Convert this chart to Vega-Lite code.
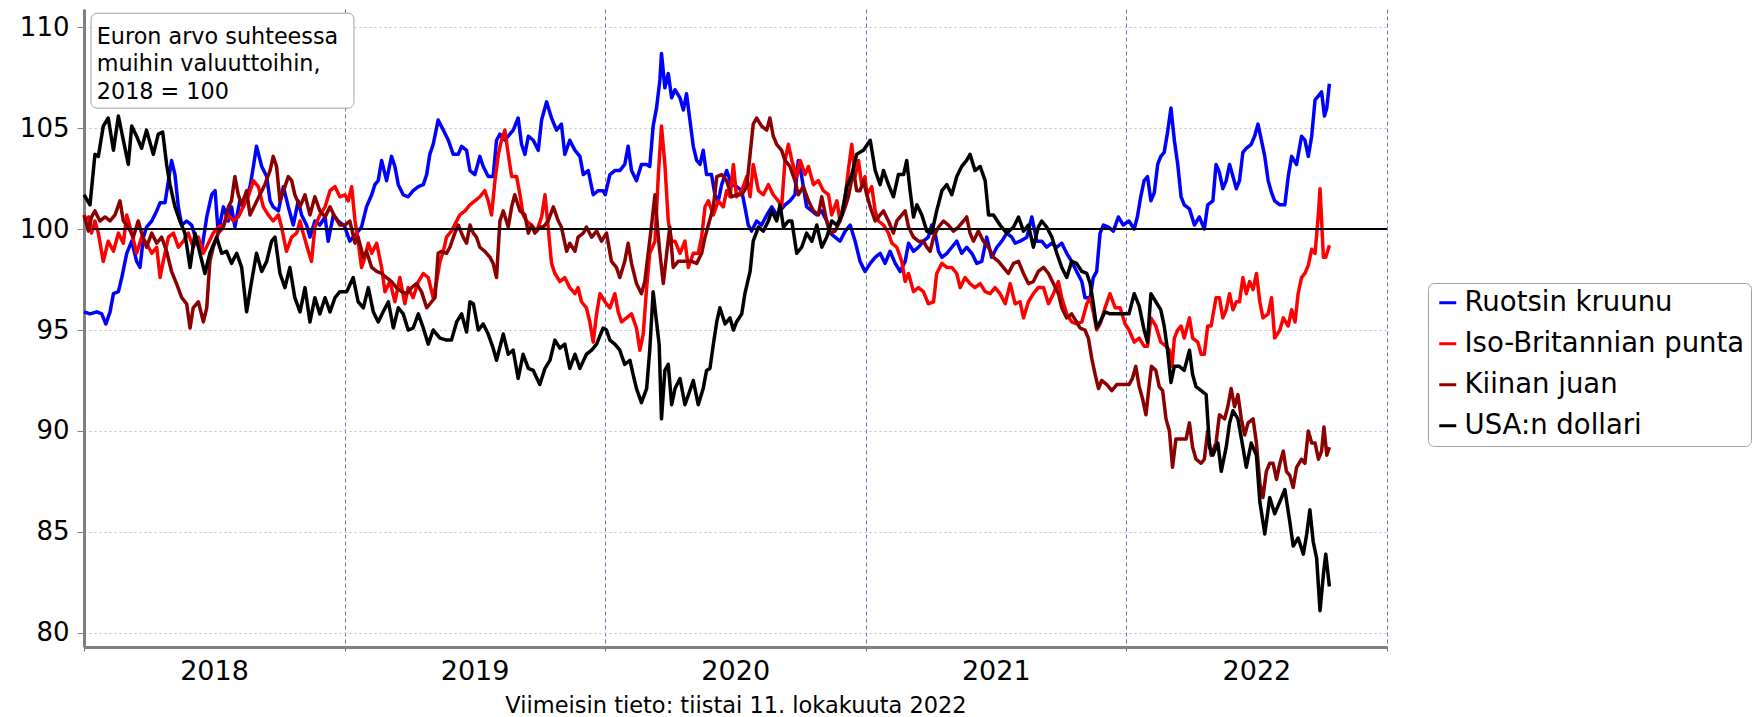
{
"$schema": "https://vega.github.io/schema/vega-lite/v6.json",
"width": 1303, "height": 638,
"autosize": "none",
"padding": {"left": 84, "top": 9, "right": 369, "bottom": 70},
"background": "white",
"config": {"font": "DejaVu Sans", "view": {"stroke": null}},
"data": {"values": [
{"s":"SEK","t":2018.000,"v":95.9},{"s":"SEK","t":2018.023,"v":95.8},{"s":"SEK","t":2018.049,"v":95.9},{"s":"SEK","t":2018.068,"v":95.8},{"s":"SEK","t":2018.084,"v":95.3},{"s":"SEK","t":2018.100,"v":95.9},{"s":"SEK","t":2018.113,"v":96.8},{"s":"SEK","t":2018.132,"v":96.9},{"s":"SEK","t":2018.145,"v":97.6},{"s":"SEK","t":2018.164,"v":98.8},{"s":"SEK","t":2018.183,"v":99.4},{"s":"SEK","t":2018.202,"v":98.4},{"s":"SEK","t":2018.215,"v":98.1},{"s":"SEK","t":2018.228,"v":99.6},{"s":"SEK","t":2018.240,"v":100.1},{"s":"SEK","t":2018.260,"v":100.4},{"s":"SEK","t":2018.279,"v":100.9},{"s":"SEK","t":2018.292,"v":101.3},{"s":"SEK","t":2018.311,"v":101.3},{"s":"SEK","t":2018.324,"v":102.4},{"s":"SEK","t":2018.336,"v":103.4},{"s":"SEK","t":2018.349,"v":102.7},{"s":"SEK","t":2018.362,"v":101.1},{"s":"SEK","t":2018.375,"v":100.2},{"s":"SEK","t":2018.394,"v":100.4},{"s":"SEK","t":2018.413,"v":100.2},{"s":"SEK","t":2018.432,"v":99.4},{"s":"SEK","t":2018.451,"v":98.9},{"s":"SEK","t":2018.471,"v":100.6},{"s":"SEK","t":2018.490,"v":101.7},{"s":"SEK","t":2018.503,"v":101.9},{"s":"SEK","t":2018.515,"v":99.8},{"s":"SEK","t":2018.535,"v":101.1},{"s":"SEK","t":2018.554,"v":100.4},{"s":"SEK","t":2018.566,"v":101.1},{"s":"SEK","t":2018.579,"v":100.1},{"s":"SEK","t":2018.598,"v":101.4},{"s":"SEK","t":2018.618,"v":101.4},{"s":"SEK","t":2018.637,"v":102.1},{"s":"SEK","t":2018.650,"v":103.1},{"s":"SEK","t":2018.662,"v":104.1},{"s":"SEK","t":2018.682,"v":103.1},{"s":"SEK","t":2018.701,"v":102.6},{"s":"SEK","t":2018.714,"v":101.4},{"s":"SEK","t":2018.726,"v":101.1},{"s":"SEK","t":2018.746,"v":100.9},{"s":"SEK","t":2018.765,"v":102.1},{"s":"SEK","t":2018.784,"v":101.1},{"s":"SEK","t":2018.803,"v":100.2},{"s":"SEK","t":2018.822,"v":101.4},{"s":"SEK","t":2018.835,"v":100.7},{"s":"SEK","t":2018.854,"v":100.2},{"s":"SEK","t":2018.867,"v":99.6},{"s":"SEK","t":2018.886,"v":100.4},{"s":"SEK","t":2018.905,"v":100.2},{"s":"SEK","t":2018.925,"v":100.6},{"s":"SEK","t":2018.937,"v":99.4},{"s":"SEK","t":2018.957,"v":100.7},{"s":"SEK","t":2018.976,"v":100.4},{"s":"SEK","t":2018.995,"v":100.2},
{"s":"SEK","t":2019.001,"v":100.1},{"s":"SEK","t":2019.020,"v":99.4},{"s":"SEK","t":2019.046,"v":99.8},{"s":"SEK","t":2019.065,"v":100.1},{"s":"SEK","t":2019.084,"v":101.1},{"s":"SEK","t":2019.104,"v":101.7},{"s":"SEK","t":2019.116,"v":102.2},{"s":"SEK","t":2019.129,"v":102.4},{"s":"SEK","t":2019.142,"v":103.4},{"s":"SEK","t":2019.161,"v":102.4},{"s":"SEK","t":2019.180,"v":103.6},{"s":"SEK","t":2019.193,"v":103.1},{"s":"SEK","t":2019.206,"v":102.2},{"s":"SEK","t":2019.225,"v":101.7},{"s":"SEK","t":2019.244,"v":101.6},{"s":"SEK","t":2019.263,"v":101.9},{"s":"SEK","t":2019.283,"v":102.1},{"s":"SEK","t":2019.302,"v":102.2},{"s":"SEK","t":2019.315,"v":102.7},{"s":"SEK","t":2019.327,"v":103.7},{"s":"SEK","t":2019.340,"v":104.2},{"s":"SEK","t":2019.359,"v":105.4},{"s":"SEK","t":2019.379,"v":104.9},{"s":"SEK","t":2019.398,"v":104.4},{"s":"SEK","t":2019.417,"v":103.7},{"s":"SEK","t":2019.436,"v":103.7},{"s":"SEK","t":2019.449,"v":104.1},{"s":"SEK","t":2019.468,"v":103.9},{"s":"SEK","t":2019.481,"v":102.9},{"s":"SEK","t":2019.500,"v":102.7},{"s":"SEK","t":2019.519,"v":103.6},{"s":"SEK","t":2019.532,"v":103.1},{"s":"SEK","t":2019.551,"v":102.6},{"s":"SEK","t":2019.570,"v":102.6},{"s":"SEK","t":2019.583,"v":104.4},{"s":"SEK","t":2019.596,"v":104.7},{"s":"SEK","t":2019.615,"v":104.4},{"s":"SEK","t":2019.634,"v":104.7},{"s":"SEK","t":2019.647,"v":104.9},{"s":"SEK","t":2019.666,"v":105.5},{"s":"SEK","t":2019.679,"v":104.2},{"s":"SEK","t":2019.692,"v":103.7},{"s":"SEK","t":2019.705,"v":104.6},{"s":"SEK","t":2019.724,"v":104.4},{"s":"SEK","t":2019.743,"v":103.9},{"s":"SEK","t":2019.756,"v":105.4},{"s":"SEK","t":2019.775,"v":106.3},{"s":"SEK","t":2019.794,"v":105.5},{"s":"SEK","t":2019.813,"v":104.9},{"s":"SEK","t":2019.832,"v":105.2},{"s":"SEK","t":2019.845,"v":103.7},{"s":"SEK","t":2019.864,"v":104.4},{"s":"SEK","t":2019.884,"v":103.9},{"s":"SEK","t":2019.903,"v":103.6},{"s":"SEK","t":2019.916,"v":102.7},{"s":"SEK","t":2019.935,"v":102.9},{"s":"SEK","t":2019.954,"v":101.7},{"s":"SEK","t":2019.973,"v":101.9},{"s":"SEK","t":2019.992,"v":101.9},
{"s":"SEK","t":2020.000,"v":101.7},{"s":"SEK","t":2020.018,"v":102.7},{"s":"SEK","t":2020.037,"v":102.9},{"s":"SEK","t":2020.056,"v":102.9},{"s":"SEK","t":2020.075,"v":103.2},{"s":"SEK","t":2020.088,"v":104.1},{"s":"SEK","t":2020.101,"v":102.9},{"s":"SEK","t":2020.120,"v":102.4},{"s":"SEK","t":2020.139,"v":103.2},{"s":"SEK","t":2020.159,"v":103.2},{"s":"SEK","t":2020.171,"v":103.1},{"s":"SEK","t":2020.184,"v":105.1},{"s":"SEK","t":2020.197,"v":106.0},{"s":"SEK","t":2020.210,"v":107.4},{"s":"SEK","t":2020.216,"v":108.7},{"s":"SEK","t":2020.229,"v":107.0},{"s":"SEK","t":2020.242,"v":107.7},{"s":"SEK","t":2020.255,"v":106.5},{"s":"SEK","t":2020.268,"v":106.9},{"s":"SEK","t":2020.287,"v":106.5},{"s":"SEK","t":2020.300,"v":105.9},{"s":"SEK","t":2020.312,"v":106.7},{"s":"SEK","t":2020.325,"v":105.4},{"s":"SEK","t":2020.338,"v":104.1},{"s":"SEK","t":2020.351,"v":103.4},{"s":"SEK","t":2020.364,"v":103.2},{"s":"SEK","t":2020.376,"v":103.9},{"s":"SEK","t":2020.389,"v":102.7},{"s":"SEK","t":2020.408,"v":102.7},{"s":"SEK","t":2020.421,"v":101.7},{"s":"SEK","t":2020.434,"v":101.4},{"s":"SEK","t":2020.447,"v":102.2},{"s":"SEK","t":2020.466,"v":102.9},{"s":"SEK","t":2020.485,"v":102.2},{"s":"SEK","t":2020.504,"v":102.1},{"s":"SEK","t":2020.524,"v":101.9},{"s":"SEK","t":2020.536,"v":101.1},{"s":"SEK","t":2020.549,"v":100.2},{"s":"SEK","t":2020.562,"v":99.9},{"s":"SEK","t":2020.581,"v":100.4},{"s":"SEK","t":2020.600,"v":100.2},{"s":"SEK","t":2020.620,"v":100.7},{"s":"SEK","t":2020.639,"v":101.1},{"s":"SEK","t":2020.658,"v":100.7},{"s":"SEK","t":2020.671,"v":100.9},{"s":"SEK","t":2020.690,"v":101.2},{"s":"SEK","t":2020.709,"v":101.4},{"s":"SEK","t":2020.728,"v":101.7},{"s":"SEK","t":2020.741,"v":103.4},{"s":"SEK","t":2020.754,"v":102.6},{"s":"SEK","t":2020.773,"v":101.1},{"s":"SEK","t":2020.793,"v":100.9},{"s":"SEK","t":2020.812,"v":100.7},{"s":"SEK","t":2020.831,"v":100.9},{"s":"SEK","t":2020.850,"v":100.4},{"s":"SEK","t":2020.863,"v":99.8},{"s":"SEK","t":2020.882,"v":99.6},{"s":"SEK","t":2020.901,"v":99.4},{"s":"SEK","t":2020.921,"v":99.9},{"s":"SEK","t":2020.940,"v":100.2},{"s":"SEK","t":2020.959,"v":99.4},{"s":"SEK","t":2020.978,"v":98.4},{"s":"SEK","t":2020.997,"v":97.9},
{"s":"SEK","t":2021.017,"v":98.3},{"s":"SEK","t":2021.036,"v":98.6},{"s":"SEK","t":2021.055,"v":98.8},{"s":"SEK","t":2021.074,"v":98.3},{"s":"SEK","t":2021.093,"v":98.9},{"s":"SEK","t":2021.113,"v":98.3},{"s":"SEK","t":2021.132,"v":97.9},{"s":"SEK","t":2021.151,"v":98.4},{"s":"SEK","t":2021.164,"v":99.3},{"s":"SEK","t":2021.183,"v":98.9},{"s":"SEK","t":2021.202,"v":99.1},{"s":"SEK","t":2021.221,"v":99.4},{"s":"SEK","t":2021.240,"v":99.6},{"s":"SEK","t":2021.253,"v":100.2},{"s":"SEK","t":2021.266,"v":99.8},{"s":"SEK","t":2021.279,"v":98.9},{"s":"SEK","t":2021.292,"v":98.6},{"s":"SEK","t":2021.311,"v":98.8},{"s":"SEK","t":2021.330,"v":99.1},{"s":"SEK","t":2021.349,"v":99.4},{"s":"SEK","t":2021.368,"v":98.8},{"s":"SEK","t":2021.387,"v":99.1},{"s":"SEK","t":2021.407,"v":98.8},{"s":"SEK","t":2021.426,"v":98.3},{"s":"SEK","t":2021.445,"v":98.4},{"s":"SEK","t":2021.464,"v":99.6},{"s":"SEK","t":2021.483,"v":98.6},{"s":"SEK","t":2021.503,"v":99.1},{"s":"SEK","t":2021.522,"v":99.4},{"s":"SEK","t":2021.541,"v":99.8},{"s":"SEK","t":2021.560,"v":99.6},{"s":"SEK","t":2021.573,"v":99.3},{"s":"SEK","t":2021.592,"v":99.4},{"s":"SEK","t":2021.618,"v":99.6},{"s":"SEK","t":2021.637,"v":100.6},{"s":"SEK","t":2021.656,"v":99.4},{"s":"SEK","t":2021.675,"v":99.4},{"s":"SEK","t":2021.694,"v":99.1},{"s":"SEK","t":2021.714,"v":99.3},{"s":"SEK","t":2021.733,"v":99.1},{"s":"SEK","t":2021.752,"v":99.3},{"s":"SEK","t":2021.771,"v":98.8},{"s":"SEK","t":2021.790,"v":98.4},{"s":"SEK","t":2021.809,"v":97.9},{"s":"SEK","t":2021.829,"v":97.4},{"s":"SEK","t":2021.841,"v":96.6},{"s":"SEK","t":2021.861,"v":96.6},{"s":"SEK","t":2021.873,"v":97.6},{"s":"SEK","t":2021.886,"v":97.9},{"s":"SEK","t":2021.899,"v":99.8},{"s":"SEK","t":2021.912,"v":100.2},{"s":"SEK","t":2021.931,"v":100.1},{"s":"SEK","t":2021.950,"v":99.9},{"s":"SEK","t":2021.969,"v":100.6},{"s":"SEK","t":2021.988,"v":100.2},
{"s":"SEK","t":2022.010,"v":100.4},{"s":"SEK","t":2022.030,"v":100.0},{"s":"SEK","t":2022.042,"v":100.6},{"s":"SEK","t":2022.055,"v":101.6},{"s":"SEK","t":2022.068,"v":102.4},{"s":"SEK","t":2022.081,"v":102.6},{"s":"SEK","t":2022.094,"v":101.4},{"s":"SEK","t":2022.107,"v":101.8},{"s":"SEK","t":2022.120,"v":103.2},{"s":"SEK","t":2022.132,"v":103.6},{"s":"SEK","t":2022.145,"v":103.8},{"s":"SEK","t":2022.158,"v":104.8},{"s":"SEK","t":2022.171,"v":106.0},{"s":"SEK","t":2022.184,"v":104.4},{"s":"SEK","t":2022.197,"v":103.2},{"s":"SEK","t":2022.210,"v":101.6},{"s":"SEK","t":2022.222,"v":101.2},{"s":"SEK","t":2022.242,"v":101.0},{"s":"SEK","t":2022.261,"v":100.2},{"s":"SEK","t":2022.280,"v":100.6},{"s":"SEK","t":2022.299,"v":100.0},{"s":"SEK","t":2022.312,"v":101.2},{"s":"SEK","t":2022.332,"v":101.4},{"s":"SEK","t":2022.344,"v":103.2},{"s":"SEK","t":2022.357,"v":102.8},{"s":"SEK","t":2022.370,"v":102.0},{"s":"SEK","t":2022.383,"v":102.4},{"s":"SEK","t":2022.396,"v":103.2},{"s":"SEK","t":2022.409,"v":102.6},{"s":"SEK","t":2022.422,"v":102.0},{"s":"SEK","t":2022.434,"v":102.4},{"s":"SEK","t":2022.447,"v":103.8},{"s":"SEK","t":2022.460,"v":104.0},{"s":"SEK","t":2022.479,"v":104.2},{"s":"SEK","t":2022.492,"v":104.6},{"s":"SEK","t":2022.505,"v":105.2},{"s":"SEK","t":2022.518,"v":104.4},{"s":"SEK","t":2022.531,"v":103.6},{"s":"SEK","t":2022.544,"v":102.4},{"s":"SEK","t":2022.557,"v":101.8},{"s":"SEK","t":2022.569,"v":101.4},{"s":"SEK","t":2022.589,"v":101.2},{"s":"SEK","t":2022.608,"v":101.2},{"s":"SEK","t":2022.621,"v":102.6},{"s":"SEK","t":2022.634,"v":103.6},{"s":"SEK","t":2022.653,"v":103.2},{"s":"SEK","t":2022.672,"v":104.6},{"s":"SEK","t":2022.685,"v":104.4},{"s":"SEK","t":2022.698,"v":103.6},{"s":"SEK","t":2022.711,"v":104.6},{"s":"SEK","t":2022.724,"v":106.4},{"s":"SEK","t":2022.737,"v":106.6},{"s":"SEK","t":2022.749,"v":106.8},{"s":"SEK","t":2022.760,"v":105.6},{"s":"SEK","t":2022.769,"v":106.0},{"s":"SEK","t":2022.779,"v":107.2},
{"s":"GBP","t":2018.000,"v":100.4},{"s":"GBP","t":2018.017,"v":100.6},{"s":"GBP","t":2018.029,"v":99.8},{"s":"GBP","t":2018.042,"v":100.4},{"s":"GBP","t":2018.055,"v":99.8},{"s":"GBP","t":2018.074,"v":98.4},{"s":"GBP","t":2018.093,"v":99.4},{"s":"GBP","t":2018.113,"v":98.9},{"s":"GBP","t":2018.132,"v":99.8},{"s":"GBP","t":2018.151,"v":99.3},{"s":"GBP","t":2018.164,"v":100.7},{"s":"GBP","t":2018.183,"v":99.8},{"s":"GBP","t":2018.202,"v":98.8},{"s":"GBP","t":2018.221,"v":99.6},{"s":"GBP","t":2018.240,"v":99.3},{"s":"GBP","t":2018.260,"v":98.8},{"s":"GBP","t":2018.279,"v":99.1},{"s":"GBP","t":2018.292,"v":97.6},{"s":"GBP","t":2018.304,"v":98.4},{"s":"GBP","t":2018.324,"v":99.6},{"s":"GBP","t":2018.343,"v":99.8},{"s":"GBP","t":2018.362,"v":99.1},{"s":"GBP","t":2018.381,"v":99.4},{"s":"GBP","t":2018.400,"v":99.8},{"s":"GBP","t":2018.419,"v":99.1},{"s":"GBP","t":2018.439,"v":99.6},{"s":"GBP","t":2018.458,"v":98.8},{"s":"GBP","t":2018.477,"v":99.3},{"s":"GBP","t":2018.496,"v":99.8},{"s":"GBP","t":2018.515,"v":100.1},{"s":"GBP","t":2018.535,"v":100.2},{"s":"GBP","t":2018.554,"v":100.7},{"s":"GBP","t":2018.573,"v":100.4},{"s":"GBP","t":2018.592,"v":100.6},{"s":"GBP","t":2018.611,"v":101.1},{"s":"GBP","t":2018.630,"v":101.6},{"s":"GBP","t":2018.650,"v":102.4},{"s":"GBP","t":2018.669,"v":102.1},{"s":"GBP","t":2018.688,"v":101.1},{"s":"GBP","t":2018.707,"v":100.7},{"s":"GBP","t":2018.726,"v":100.4},{"s":"GBP","t":2018.746,"v":100.7},{"s":"GBP","t":2018.758,"v":100.1},{"s":"GBP","t":2018.777,"v":98.9},{"s":"GBP","t":2018.797,"v":99.6},{"s":"GBP","t":2018.816,"v":99.8},{"s":"GBP","t":2018.829,"v":100.4},{"s":"GBP","t":2018.841,"v":99.8},{"s":"GBP","t":2018.861,"v":98.9},{"s":"GBP","t":2018.873,"v":98.4},{"s":"GBP","t":2018.886,"v":100.1},{"s":"GBP","t":2018.905,"v":100.7},{"s":"GBP","t":2018.925,"v":101.1},{"s":"GBP","t":2018.944,"v":101.9},{"s":"GBP","t":2018.963,"v":102.1},{"s":"GBP","t":2018.982,"v":101.6},
{"s":"GBP","t":2019.001,"v":101.7},{"s":"GBP","t":2019.014,"v":101.4},{"s":"GBP","t":2019.027,"v":102.1},{"s":"GBP","t":2019.040,"v":100.4},{"s":"GBP","t":2019.052,"v":99.4},{"s":"GBP","t":2019.065,"v":98.1},{"s":"GBP","t":2019.078,"v":98.6},{"s":"GBP","t":2019.091,"v":99.3},{"s":"GBP","t":2019.104,"v":98.8},{"s":"GBP","t":2019.123,"v":99.3},{"s":"GBP","t":2019.142,"v":98.1},{"s":"GBP","t":2019.155,"v":96.9},{"s":"GBP","t":2019.174,"v":97.4},{"s":"GBP","t":2019.193,"v":96.4},{"s":"GBP","t":2019.212,"v":97.6},{"s":"GBP","t":2019.231,"v":96.3},{"s":"GBP","t":2019.244,"v":97.1},{"s":"GBP","t":2019.263,"v":96.6},{"s":"GBP","t":2019.283,"v":97.4},{"s":"GBP","t":2019.302,"v":97.8},{"s":"GBP","t":2019.321,"v":97.6},{"s":"GBP","t":2019.340,"v":96.6},{"s":"GBP","t":2019.353,"v":97.4},{"s":"GBP","t":2019.366,"v":98.4},{"s":"GBP","t":2019.379,"v":98.9},{"s":"GBP","t":2019.391,"v":99.6},{"s":"GBP","t":2019.410,"v":99.9},{"s":"GBP","t":2019.430,"v":100.4},{"s":"GBP","t":2019.442,"v":100.7},{"s":"GBP","t":2019.462,"v":100.9},{"s":"GBP","t":2019.481,"v":101.2},{"s":"GBP","t":2019.500,"v":101.4},{"s":"GBP","t":2019.519,"v":101.6},{"s":"GBP","t":2019.538,"v":101.9},{"s":"GBP","t":2019.551,"v":101.4},{"s":"GBP","t":2019.564,"v":100.7},{"s":"GBP","t":2019.577,"v":102.4},{"s":"GBP","t":2019.590,"v":103.7},{"s":"GBP","t":2019.602,"v":104.4},{"s":"GBP","t":2019.615,"v":104.9},{"s":"GBP","t":2019.628,"v":103.7},{"s":"GBP","t":2019.641,"v":102.6},{"s":"GBP","t":2019.660,"v":102.6},{"s":"GBP","t":2019.673,"v":101.7},{"s":"GBP","t":2019.685,"v":100.7},{"s":"GBP","t":2019.698,"v":100.4},{"s":"GBP","t":2019.717,"v":100.2},{"s":"GBP","t":2019.737,"v":99.9},{"s":"GBP","t":2019.756,"v":100.6},{"s":"GBP","t":2019.769,"v":101.7},{"s":"GBP","t":2019.781,"v":100.1},{"s":"GBP","t":2019.794,"v":98.3},{"s":"GBP","t":2019.807,"v":97.8},{"s":"GBP","t":2019.826,"v":97.4},{"s":"GBP","t":2019.845,"v":97.6},{"s":"GBP","t":2019.864,"v":97.1},{"s":"GBP","t":2019.884,"v":96.8},{"s":"GBP","t":2019.896,"v":97.1},{"s":"GBP","t":2019.909,"v":96.4},{"s":"GBP","t":2019.928,"v":96.1},{"s":"GBP","t":2019.941,"v":95.4},{"s":"GBP","t":2019.954,"v":94.4},{"s":"GBP","t":2019.967,"v":95.8},{"s":"GBP","t":2019.980,"v":96.8},{"s":"GBP","t":2019.999,"v":96.4},
{"s":"GBP","t":2020.005,"v":96.3},{"s":"GBP","t":2020.018,"v":96.1},{"s":"GBP","t":2020.037,"v":96.8},{"s":"GBP","t":2020.050,"v":95.9},{"s":"GBP","t":2020.063,"v":95.4},{"s":"GBP","t":2020.082,"v":95.6},{"s":"GBP","t":2020.101,"v":95.8},{"s":"GBP","t":2020.120,"v":95.1},{"s":"GBP","t":2020.133,"v":94.0},{"s":"GBP","t":2020.146,"v":94.8},{"s":"GBP","t":2020.159,"v":97.1},{"s":"GBP","t":2020.171,"v":98.8},{"s":"GBP","t":2020.191,"v":99.4},{"s":"GBP","t":2020.204,"v":102.7},{"s":"GBP","t":2020.216,"v":105.1},{"s":"GBP","t":2020.229,"v":103.2},{"s":"GBP","t":2020.242,"v":100.4},{"s":"GBP","t":2020.255,"v":99.4},{"s":"GBP","t":2020.268,"v":99.4},{"s":"GBP","t":2020.287,"v":98.8},{"s":"GBP","t":2020.306,"v":99.4},{"s":"GBP","t":2020.319,"v":98.1},{"s":"GBP","t":2020.338,"v":98.8},{"s":"GBP","t":2020.357,"v":98.8},{"s":"GBP","t":2020.370,"v":99.6},{"s":"GBP","t":2020.383,"v":101.1},{"s":"GBP","t":2020.396,"v":101.4},{"s":"GBP","t":2020.415,"v":100.7},{"s":"GBP","t":2020.434,"v":101.4},{"s":"GBP","t":2020.453,"v":101.1},{"s":"GBP","t":2020.466,"v":101.9},{"s":"GBP","t":2020.479,"v":101.6},{"s":"GBP","t":2020.492,"v":103.2},{"s":"GBP","t":2020.504,"v":101.6},{"s":"GBP","t":2020.524,"v":101.9},{"s":"GBP","t":2020.543,"v":102.6},{"s":"GBP","t":2020.556,"v":101.6},{"s":"GBP","t":2020.568,"v":103.2},{"s":"GBP","t":2020.588,"v":101.9},{"s":"GBP","t":2020.607,"v":101.7},{"s":"GBP","t":2020.626,"v":102.2},{"s":"GBP","t":2020.645,"v":101.7},{"s":"GBP","t":2020.664,"v":101.4},{"s":"GBP","t":2020.677,"v":101.1},{"s":"GBP","t":2020.690,"v":103.4},{"s":"GBP","t":2020.703,"v":104.2},{"s":"GBP","t":2020.716,"v":103.4},{"s":"GBP","t":2020.735,"v":102.6},{"s":"GBP","t":2020.748,"v":103.4},{"s":"GBP","t":2020.767,"v":102.7},{"s":"GBP","t":2020.780,"v":103.1},{"s":"GBP","t":2020.799,"v":102.2},{"s":"GBP","t":2020.818,"v":102.4},{"s":"GBP","t":2020.837,"v":101.9},{"s":"GBP","t":2020.857,"v":101.7},{"s":"GBP","t":2020.869,"v":100.7},{"s":"GBP","t":2020.889,"v":101.4},{"s":"GBP","t":2020.901,"v":100.4},{"s":"GBP","t":2020.921,"v":101.6},{"s":"GBP","t":2020.933,"v":102.9},{"s":"GBP","t":2020.946,"v":104.2},{"s":"GBP","t":2020.959,"v":102.6},{"s":"GBP","t":2020.972,"v":103.4},{"s":"GBP","t":2020.985,"v":102.1},{"s":"GBP","t":2020.997,"v":102.6},
{"s":"GBP","t":2021.004,"v":101.7},{"s":"GBP","t":2021.023,"v":102.1},{"s":"GBP","t":2021.036,"v":100.9},{"s":"GBP","t":2021.049,"v":100.4},{"s":"GBP","t":2021.068,"v":100.2},{"s":"GBP","t":2021.087,"v":99.8},{"s":"GBP","t":2021.100,"v":99.3},{"s":"GBP","t":2021.119,"v":99.1},{"s":"GBP","t":2021.138,"v":98.4},{"s":"GBP","t":2021.151,"v":97.4},{"s":"GBP","t":2021.164,"v":97.8},{"s":"GBP","t":2021.183,"v":96.9},{"s":"GBP","t":2021.202,"v":97.1},{"s":"GBP","t":2021.221,"v":96.9},{"s":"GBP","t":2021.240,"v":96.3},{"s":"GBP","t":2021.260,"v":96.4},{"s":"GBP","t":2021.272,"v":97.8},{"s":"GBP","t":2021.292,"v":98.3},{"s":"GBP","t":2021.311,"v":98.1},{"s":"GBP","t":2021.330,"v":98.1},{"s":"GBP","t":2021.349,"v":97.8},{"s":"GBP","t":2021.362,"v":97.1},{"s":"GBP","t":2021.381,"v":97.6},{"s":"GBP","t":2021.400,"v":97.3},{"s":"GBP","t":2021.419,"v":97.1},{"s":"GBP","t":2021.439,"v":97.3},{"s":"GBP","t":2021.458,"v":96.9},{"s":"GBP","t":2021.477,"v":96.8},{"s":"GBP","t":2021.496,"v":97.1},{"s":"GBP","t":2021.515,"v":96.8},{"s":"GBP","t":2021.535,"v":96.3},{"s":"GBP","t":2021.554,"v":97.3},{"s":"GBP","t":2021.573,"v":96.3},{"s":"GBP","t":2021.592,"v":96.4},{"s":"GBP","t":2021.605,"v":95.6},{"s":"GBP","t":2021.624,"v":96.4},{"s":"GBP","t":2021.643,"v":96.8},{"s":"GBP","t":2021.662,"v":97.1},{"s":"GBP","t":2021.682,"v":97.1},{"s":"GBP","t":2021.701,"v":96.3},{"s":"GBP","t":2021.720,"v":96.8},{"s":"GBP","t":2021.739,"v":97.4},{"s":"GBP","t":2021.752,"v":96.6},{"s":"GBP","t":2021.771,"v":95.8},{"s":"GBP","t":2021.790,"v":95.4},{"s":"GBP","t":2021.809,"v":95.3},{"s":"GBP","t":2021.829,"v":95.4},{"s":"GBP","t":2021.848,"v":96.3},{"s":"GBP","t":2021.861,"v":96.6},{"s":"GBP","t":2021.873,"v":95.9},{"s":"GBP","t":2021.886,"v":95.0},{"s":"GBP","t":2021.899,"v":95.3},{"s":"GBP","t":2021.918,"v":96.1},{"s":"GBP","t":2021.937,"v":96.8},{"s":"GBP","t":2021.957,"v":96.1},{"s":"GBP","t":2021.976,"v":96.1},{"s":"GBP","t":2021.995,"v":95.3},
{"s":"GBP","t":2022.010,"v":95.0},{"s":"GBP","t":2022.030,"v":94.4},{"s":"GBP","t":2022.049,"v":94.6},{"s":"GBP","t":2022.068,"v":94.2},{"s":"GBP","t":2022.081,"v":94.2},{"s":"GBP","t":2022.094,"v":95.6},{"s":"GBP","t":2022.113,"v":95.2},{"s":"GBP","t":2022.132,"v":94.4},{"s":"GBP","t":2022.152,"v":94.2},{"s":"GBP","t":2022.165,"v":94.0},{"s":"GBP","t":2022.175,"v":93.2},{"s":"GBP","t":2022.184,"v":94.6},{"s":"GBP","t":2022.197,"v":95.0},{"s":"GBP","t":2022.210,"v":95.2},{"s":"GBP","t":2022.222,"v":94.6},{"s":"GBP","t":2022.242,"v":95.6},{"s":"GBP","t":2022.254,"v":94.6},{"s":"GBP","t":2022.274,"v":94.4},{"s":"GBP","t":2022.287,"v":93.8},{"s":"GBP","t":2022.299,"v":93.8},{"s":"GBP","t":2022.312,"v":95.2},{"s":"GBP","t":2022.325,"v":95.2},{"s":"GBP","t":2022.344,"v":96.6},{"s":"GBP","t":2022.357,"v":96.6},{"s":"GBP","t":2022.370,"v":95.6},{"s":"GBP","t":2022.383,"v":96.0},{"s":"GBP","t":2022.396,"v":96.8},{"s":"GBP","t":2022.409,"v":96.0},{"s":"GBP","t":2022.422,"v":96.4},{"s":"GBP","t":2022.434,"v":96.4},{"s":"GBP","t":2022.447,"v":97.6},{"s":"GBP","t":2022.460,"v":96.8},{"s":"GBP","t":2022.473,"v":97.4},{"s":"GBP","t":2022.486,"v":97.0},{"s":"GBP","t":2022.499,"v":97.8},{"s":"GBP","t":2022.512,"v":96.4},{"s":"GBP","t":2022.524,"v":95.6},{"s":"GBP","t":2022.544,"v":95.8},{"s":"GBP","t":2022.557,"v":96.6},{"s":"GBP","t":2022.569,"v":94.6},{"s":"GBP","t":2022.589,"v":95.0},{"s":"GBP","t":2022.602,"v":95.6},{"s":"GBP","t":2022.621,"v":95.2},{"s":"GBP","t":2022.634,"v":96.0},{"s":"GBP","t":2022.647,"v":95.4},{"s":"GBP","t":2022.659,"v":96.8},{"s":"GBP","t":2022.672,"v":97.6},{"s":"GBP","t":2022.685,"v":97.8},{"s":"GBP","t":2022.698,"v":98.2},{"s":"GBP","t":2022.711,"v":99.0},{"s":"GBP","t":2022.724,"v":98.8},{"s":"GBP","t":2022.737,"v":100.8},{"s":"GBP","t":2022.743,"v":102.0},{"s":"GBP","t":2022.756,"v":98.6},{"s":"GBP","t":2022.765,"v":98.6},{"s":"GBP","t":2022.779,"v":99.2},
{"s":"CNY","t":2018.000,"v":100.7},{"s":"CNY","t":2018.017,"v":99.9},{"s":"CNY","t":2018.029,"v":100.6},{"s":"CNY","t":2018.042,"v":100.9},{"s":"CNY","t":2018.061,"v":100.4},{"s":"CNY","t":2018.081,"v":100.6},{"s":"CNY","t":2018.100,"v":100.4},{"s":"CNY","t":2018.119,"v":100.7},{"s":"CNY","t":2018.138,"v":101.4},{"s":"CNY","t":2018.151,"v":100.4},{"s":"CNY","t":2018.170,"v":100.1},{"s":"CNY","t":2018.189,"v":99.6},{"s":"CNY","t":2018.208,"v":100.4},{"s":"CNY","t":2018.221,"v":99.8},{"s":"CNY","t":2018.240,"v":99.1},{"s":"CNY","t":2018.260,"v":99.8},{"s":"CNY","t":2018.279,"v":99.3},{"s":"CNY","t":2018.298,"v":99.6},{"s":"CNY","t":2018.317,"v":98.9},{"s":"CNY","t":2018.336,"v":97.9},{"s":"CNY","t":2018.355,"v":97.3},{"s":"CNY","t":2018.375,"v":96.6},{"s":"CNY","t":2018.394,"v":96.3},{"s":"CNY","t":2018.407,"v":95.1},{"s":"CNY","t":2018.419,"v":96.1},{"s":"CNY","t":2018.439,"v":96.4},{"s":"CNY","t":2018.458,"v":95.4},{"s":"CNY","t":2018.471,"v":96.1},{"s":"CNY","t":2018.483,"v":98.4},{"s":"CNY","t":2018.496,"v":99.1},{"s":"CNY","t":2018.515,"v":99.8},{"s":"CNY","t":2018.535,"v":100.1},{"s":"CNY","t":2018.554,"v":101.1},{"s":"CNY","t":2018.566,"v":101.4},{"s":"CNY","t":2018.579,"v":102.6},{"s":"CNY","t":2018.592,"v":101.7},{"s":"CNY","t":2018.605,"v":101.2},{"s":"CNY","t":2018.624,"v":101.9},{"s":"CNY","t":2018.637,"v":100.7},{"s":"CNY","t":2018.656,"v":101.2},{"s":"CNY","t":2018.675,"v":101.7},{"s":"CNY","t":2018.694,"v":102.2},{"s":"CNY","t":2018.714,"v":102.9},{"s":"CNY","t":2018.726,"v":103.6},{"s":"CNY","t":2018.739,"v":103.1},{"s":"CNY","t":2018.752,"v":101.4},{"s":"CNY","t":2018.771,"v":102.1},{"s":"CNY","t":2018.784,"v":102.6},{"s":"CNY","t":2018.797,"v":102.4},{"s":"CNY","t":2018.809,"v":101.7},{"s":"CNY","t":2018.829,"v":101.1},{"s":"CNY","t":2018.848,"v":101.7},{"s":"CNY","t":2018.867,"v":100.7},{"s":"CNY","t":2018.886,"v":101.6},{"s":"CNY","t":2018.905,"v":100.9},{"s":"CNY","t":2018.925,"v":100.6},{"s":"CNY","t":2018.944,"v":101.1},{"s":"CNY","t":2018.963,"v":100.6},{"s":"CNY","t":2018.982,"v":100.2},
{"s":"CNY","t":2019.001,"v":100.2},{"s":"CNY","t":2019.020,"v":100.4},{"s":"CNY","t":2019.040,"v":99.3},{"s":"CNY","t":2019.052,"v":99.6},{"s":"CNY","t":2019.072,"v":98.6},{"s":"CNY","t":2019.084,"v":98.9},{"s":"CNY","t":2019.104,"v":98.1},{"s":"CNY","t":2019.123,"v":97.9},{"s":"CNY","t":2019.142,"v":97.8},{"s":"CNY","t":2019.161,"v":97.6},{"s":"CNY","t":2019.180,"v":97.4},{"s":"CNY","t":2019.199,"v":97.1},{"s":"CNY","t":2019.219,"v":96.9},{"s":"CNY","t":2019.238,"v":96.8},{"s":"CNY","t":2019.257,"v":97.1},{"s":"CNY","t":2019.276,"v":97.3},{"s":"CNY","t":2019.295,"v":96.9},{"s":"CNY","t":2019.315,"v":96.1},{"s":"CNY","t":2019.334,"v":96.4},{"s":"CNY","t":2019.347,"v":96.6},{"s":"CNY","t":2019.359,"v":98.8},{"s":"CNY","t":2019.372,"v":98.9},{"s":"CNY","t":2019.391,"v":98.8},{"s":"CNY","t":2019.404,"v":99.1},{"s":"CNY","t":2019.423,"v":99.8},{"s":"CNY","t":2019.436,"v":100.2},{"s":"CNY","t":2019.455,"v":99.6},{"s":"CNY","t":2019.468,"v":99.3},{"s":"CNY","t":2019.481,"v":100.2},{"s":"CNY","t":2019.494,"v":99.8},{"s":"CNY","t":2019.506,"v":99.6},{"s":"CNY","t":2019.519,"v":99.1},{"s":"CNY","t":2019.538,"v":98.9},{"s":"CNY","t":2019.558,"v":98.6},{"s":"CNY","t":2019.570,"v":98.3},{"s":"CNY","t":2019.583,"v":97.6},{"s":"CNY","t":2019.596,"v":100.4},{"s":"CNY","t":2019.609,"v":100.9},{"s":"CNY","t":2019.628,"v":100.1},{"s":"CNY","t":2019.641,"v":101.1},{"s":"CNY","t":2019.653,"v":101.7},{"s":"CNY","t":2019.673,"v":100.9},{"s":"CNY","t":2019.692,"v":100.7},{"s":"CNY","t":2019.705,"v":99.8},{"s":"CNY","t":2019.717,"v":100.2},{"s":"CNY","t":2019.730,"v":99.8},{"s":"CNY","t":2019.749,"v":100.1},{"s":"CNY","t":2019.762,"v":100.1},{"s":"CNY","t":2019.781,"v":100.4},{"s":"CNY","t":2019.801,"v":101.1},{"s":"CNY","t":2019.820,"v":100.4},{"s":"CNY","t":2019.832,"v":100.1},{"s":"CNY","t":2019.852,"v":98.9},{"s":"CNY","t":2019.864,"v":99.3},{"s":"CNY","t":2019.884,"v":98.9},{"s":"CNY","t":2019.896,"v":99.6},{"s":"CNY","t":2019.916,"v":99.8},{"s":"CNY","t":2019.928,"v":100.1},{"s":"CNY","t":2019.948,"v":99.6},{"s":"CNY","t":2019.967,"v":99.9},{"s":"CNY","t":2019.986,"v":99.4},
{"s":"CNY","t":2020.005,"v":99.8},{"s":"CNY","t":2020.024,"v":98.4},{"s":"CNY","t":2020.043,"v":98.1},{"s":"CNY","t":2020.056,"v":97.6},{"s":"CNY","t":2020.075,"v":98.4},{"s":"CNY","t":2020.088,"v":99.3},{"s":"CNY","t":2020.101,"v":98.3},{"s":"CNY","t":2020.120,"v":97.3},{"s":"CNY","t":2020.139,"v":96.8},{"s":"CNY","t":2020.152,"v":97.4},{"s":"CNY","t":2020.165,"v":98.8},{"s":"CNY","t":2020.178,"v":100.2},{"s":"CNY","t":2020.191,"v":101.7},{"s":"CNY","t":2020.200,"v":100.2},{"s":"CNY","t":2020.210,"v":98.8},{"s":"CNY","t":2020.223,"v":97.3},{"s":"CNY","t":2020.236,"v":98.8},{"s":"CNY","t":2020.248,"v":100.1},{"s":"CNY","t":2020.261,"v":98.1},{"s":"CNY","t":2020.280,"v":98.4},{"s":"CNY","t":2020.300,"v":98.4},{"s":"CNY","t":2020.312,"v":98.4},{"s":"CNY","t":2020.332,"v":98.4},{"s":"CNY","t":2020.351,"v":98.3},{"s":"CNY","t":2020.370,"v":98.8},{"s":"CNY","t":2020.383,"v":99.6},{"s":"CNY","t":2020.396,"v":100.2},{"s":"CNY","t":2020.415,"v":101.1},{"s":"CNY","t":2020.428,"v":102.6},{"s":"CNY","t":2020.447,"v":102.7},{"s":"CNY","t":2020.466,"v":102.4},{"s":"CNY","t":2020.485,"v":101.6},{"s":"CNY","t":2020.504,"v":101.7},{"s":"CNY","t":2020.524,"v":101.7},{"s":"CNY","t":2020.543,"v":102.1},{"s":"CNY","t":2020.556,"v":103.7},{"s":"CNY","t":2020.568,"v":105.2},{"s":"CNY","t":2020.581,"v":105.5},{"s":"CNY","t":2020.600,"v":105.1},{"s":"CNY","t":2020.620,"v":104.9},{"s":"CNY","t":2020.632,"v":105.5},{"s":"CNY","t":2020.645,"v":104.6},{"s":"CNY","t":2020.658,"v":104.2},{"s":"CNY","t":2020.677,"v":103.9},{"s":"CNY","t":2020.690,"v":103.4},{"s":"CNY","t":2020.709,"v":103.1},{"s":"CNY","t":2020.728,"v":102.4},{"s":"CNY","t":2020.741,"v":101.7},{"s":"CNY","t":2020.760,"v":102.1},{"s":"CNY","t":2020.780,"v":101.4},{"s":"CNY","t":2020.799,"v":100.9},{"s":"CNY","t":2020.818,"v":100.7},{"s":"CNY","t":2020.831,"v":101.6},{"s":"CNY","t":2020.850,"v":100.4},{"s":"CNY","t":2020.863,"v":99.8},{"s":"CNY","t":2020.882,"v":99.9},{"s":"CNY","t":2020.901,"v":100.4},{"s":"CNY","t":2020.921,"v":101.1},{"s":"CNY","t":2020.933,"v":101.6},{"s":"CNY","t":2020.953,"v":102.9},{"s":"CNY","t":2020.965,"v":101.9},{"s":"CNY","t":2020.978,"v":101.9},{"s":"CNY","t":2020.991,"v":102.4},
{"s":"CNY","t":2021.004,"v":101.7},{"s":"CNY","t":2021.017,"v":101.1},{"s":"CNY","t":2021.036,"v":100.4},{"s":"CNY","t":2021.055,"v":100.7},{"s":"CNY","t":2021.068,"v":100.9},{"s":"CNY","t":2021.087,"v":100.4},{"s":"CNY","t":2021.106,"v":99.8},{"s":"CNY","t":2021.119,"v":100.4},{"s":"CNY","t":2021.132,"v":100.6},{"s":"CNY","t":2021.151,"v":100.9},{"s":"CNY","t":2021.164,"v":100.1},{"s":"CNY","t":2021.183,"v":99.6},{"s":"CNY","t":2021.202,"v":99.4},{"s":"CNY","t":2021.221,"v":99.4},{"s":"CNY","t":2021.234,"v":99.1},{"s":"CNY","t":2021.247,"v":98.9},{"s":"CNY","t":2021.260,"v":99.6},{"s":"CNY","t":2021.279,"v":100.1},{"s":"CNY","t":2021.298,"v":100.4},{"s":"CNY","t":2021.317,"v":100.2},{"s":"CNY","t":2021.336,"v":99.9},{"s":"CNY","t":2021.355,"v":100.1},{"s":"CNY","t":2021.375,"v":100.4},{"s":"CNY","t":2021.387,"v":100.6},{"s":"CNY","t":2021.400,"v":99.8},{"s":"CNY","t":2021.413,"v":99.4},{"s":"CNY","t":2021.432,"v":99.9},{"s":"CNY","t":2021.451,"v":99.4},{"s":"CNY","t":2021.471,"v":99.1},{"s":"CNY","t":2021.490,"v":98.6},{"s":"CNY","t":2021.509,"v":98.4},{"s":"CNY","t":2021.528,"v":98.1},{"s":"CNY","t":2021.547,"v":97.8},{"s":"CNY","t":2021.567,"v":98.3},{"s":"CNY","t":2021.586,"v":98.4},{"s":"CNY","t":2021.605,"v":97.8},{"s":"CNY","t":2021.624,"v":97.3},{"s":"CNY","t":2021.643,"v":97.4},{"s":"CNY","t":2021.662,"v":97.9},{"s":"CNY","t":2021.682,"v":98.1},{"s":"CNY","t":2021.701,"v":97.8},{"s":"CNY","t":2021.720,"v":97.3},{"s":"CNY","t":2021.739,"v":96.8},{"s":"CNY","t":2021.752,"v":96.1},{"s":"CNY","t":2021.771,"v":95.6},{"s":"CNY","t":2021.790,"v":95.8},{"s":"CNY","t":2021.809,"v":95.4},{"s":"CNY","t":2021.822,"v":95.1},{"s":"CNY","t":2021.841,"v":95.0},{"s":"CNY","t":2021.854,"v":94.6},{"s":"CNY","t":2021.867,"v":93.6},{"s":"CNY","t":2021.880,"v":92.8},{"s":"CNY","t":2021.893,"v":92.1},{"s":"CNY","t":2021.905,"v":92.5},{"s":"CNY","t":2021.925,"v":92.3},{"s":"CNY","t":2021.944,"v":92.0},{"s":"CNY","t":2021.963,"v":92.3},{"s":"CNY","t":2021.982,"v":92.3},
{"s":"CNY","t":2022.010,"v":92.3},{"s":"CNY","t":2022.023,"v":92.6},{"s":"CNY","t":2022.036,"v":93.2},{"s":"CNY","t":2022.049,"v":92.2},{"s":"CNY","t":2022.062,"v":91.6},{"s":"CNY","t":2022.075,"v":90.8},{"s":"CNY","t":2022.087,"v":92.2},{"s":"CNY","t":2022.096,"v":93.2},{"s":"CNY","t":2022.113,"v":93.0},{"s":"CNY","t":2022.126,"v":92.2},{"s":"CNY","t":2022.139,"v":92.0},{"s":"CNY","t":2022.152,"v":90.6},{"s":"CNY","t":2022.165,"v":90.0},{"s":"CNY","t":2022.177,"v":88.2},{"s":"CNY","t":2022.190,"v":89.6},{"s":"CNY","t":2022.210,"v":89.6},{"s":"CNY","t":2022.229,"v":89.6},{"s":"CNY","t":2022.242,"v":90.4},{"s":"CNY","t":2022.254,"v":89.2},{"s":"CNY","t":2022.267,"v":88.6},{"s":"CNY","t":2022.287,"v":88.4},{"s":"CNY","t":2022.299,"v":88.6},{"s":"CNY","t":2022.312,"v":90.0},{"s":"CNY","t":2022.325,"v":88.8},{"s":"CNY","t":2022.344,"v":89.4},{"s":"CNY","t":2022.357,"v":90.8},{"s":"CNY","t":2022.377,"v":90.6},{"s":"CNY","t":2022.389,"v":91.2},{"s":"CNY","t":2022.402,"v":92.1},{"s":"CNY","t":2022.415,"v":91.2},{"s":"CNY","t":2022.428,"v":91.8},{"s":"CNY","t":2022.441,"v":90.6},{"s":"CNY","t":2022.454,"v":89.8},{"s":"CNY","t":2022.467,"v":90.4},{"s":"CNY","t":2022.486,"v":90.6},{"s":"CNY","t":2022.499,"v":89.4},{"s":"CNY","t":2022.512,"v":87.4},{"s":"CNY","t":2022.524,"v":86.7},{"s":"CNY","t":2022.537,"v":88.0},{"s":"CNY","t":2022.550,"v":88.4},{"s":"CNY","t":2022.563,"v":88.4},{"s":"CNY","t":2022.576,"v":87.6},{"s":"CNY","t":2022.589,"v":88.4},{"s":"CNY","t":2022.602,"v":89.0},{"s":"CNY","t":2022.614,"v":88.0},{"s":"CNY","t":2022.627,"v":87.8},{"s":"CNY","t":2022.640,"v":87.2},{"s":"CNY","t":2022.653,"v":88.2},{"s":"CNY","t":2022.672,"v":88.6},{"s":"CNY","t":2022.685,"v":88.4},{"s":"CNY","t":2022.698,"v":90.0},{"s":"CNY","t":2022.711,"v":89.4},{"s":"CNY","t":2022.724,"v":89.4},{"s":"CNY","t":2022.737,"v":88.6},{"s":"CNY","t":2022.749,"v":89.0},{"s":"CNY","t":2022.758,"v":90.2},{"s":"CNY","t":2022.769,"v":88.8},{"s":"CNY","t":2022.779,"v":89.2},
{"s":"USD","t":2018.000,"v":101.7},{"s":"USD","t":2018.023,"v":101.2},{"s":"USD","t":2018.042,"v":103.7},{"s":"USD","t":2018.055,"v":103.6},{"s":"USD","t":2018.074,"v":105.1},{"s":"USD","t":2018.093,"v":105.5},{"s":"USD","t":2018.113,"v":103.9},{"s":"USD","t":2018.132,"v":105.6},{"s":"USD","t":2018.151,"v":104.4},{"s":"USD","t":2018.170,"v":103.2},{"s":"USD","t":2018.183,"v":105.1},{"s":"USD","t":2018.202,"v":104.6},{"s":"USD","t":2018.221,"v":104.0},{"s":"USD","t":2018.240,"v":104.9},{"s":"USD","t":2018.266,"v":103.7},{"s":"USD","t":2018.285,"v":104.7},{"s":"USD","t":2018.302,"v":104.8},{"s":"USD","t":2018.317,"v":103.2},{"s":"USD","t":2018.330,"v":102.2},{"s":"USD","t":2018.349,"v":101.1},{"s":"USD","t":2018.368,"v":100.4},{"s":"USD","t":2018.387,"v":99.8},{"s":"USD","t":2018.407,"v":98.1},{"s":"USD","t":2018.426,"v":99.8},{"s":"USD","t":2018.445,"v":98.8},{"s":"USD","t":2018.464,"v":97.8},{"s":"USD","t":2018.483,"v":98.8},{"s":"USD","t":2018.509,"v":99.6},{"s":"USD","t":2018.528,"v":98.8},{"s":"USD","t":2018.547,"v":98.9},{"s":"USD","t":2018.566,"v":98.3},{"s":"USD","t":2018.586,"v":98.8},{"s":"USD","t":2018.605,"v":98.1},{"s":"USD","t":2018.624,"v":95.9},{"s":"USD","t":2018.643,"v":97.4},{"s":"USD","t":2018.662,"v":98.8},{"s":"USD","t":2018.682,"v":97.9},{"s":"USD","t":2018.701,"v":98.4},{"s":"USD","t":2018.720,"v":99.4},{"s":"USD","t":2018.733,"v":99.6},{"s":"USD","t":2018.752,"v":97.8},{"s":"USD","t":2018.771,"v":97.1},{"s":"USD","t":2018.790,"v":98.1},{"s":"USD","t":2018.809,"v":96.6},{"s":"USD","t":2018.829,"v":95.9},{"s":"USD","t":2018.848,"v":97.1},{"s":"USD","t":2018.867,"v":95.4},{"s":"USD","t":2018.886,"v":96.6},{"s":"USD","t":2018.905,"v":95.8},{"s":"USD","t":2018.925,"v":96.6},{"s":"USD","t":2018.944,"v":95.9},{"s":"USD","t":2018.963,"v":96.6},{"s":"USD","t":2018.982,"v":96.9},
{"s":"USD","t":2019.008,"v":96.9},{"s":"USD","t":2019.033,"v":97.6},{"s":"USD","t":2019.052,"v":96.4},{"s":"USD","t":2019.072,"v":96.1},{"s":"USD","t":2019.091,"v":97.1},{"s":"USD","t":2019.110,"v":95.9},{"s":"USD","t":2019.129,"v":95.4},{"s":"USD","t":2019.148,"v":95.9},{"s":"USD","t":2019.168,"v":96.4},{"s":"USD","t":2019.187,"v":95.1},{"s":"USD","t":2019.206,"v":96.1},{"s":"USD","t":2019.225,"v":95.8},{"s":"USD","t":2019.244,"v":95.0},{"s":"USD","t":2019.263,"v":95.1},{"s":"USD","t":2019.283,"v":95.8},{"s":"USD","t":2019.302,"v":95.1},{"s":"USD","t":2019.321,"v":94.3},{"s":"USD","t":2019.340,"v":95.0},{"s":"USD","t":2019.366,"v":94.6},{"s":"USD","t":2019.391,"v":94.5},{"s":"USD","t":2019.410,"v":94.5},{"s":"USD","t":2019.430,"v":95.4},{"s":"USD","t":2019.449,"v":95.8},{"s":"USD","t":2019.468,"v":94.9},{"s":"USD","t":2019.481,"v":96.4},{"s":"USD","t":2019.494,"v":96.3},{"s":"USD","t":2019.513,"v":95.0},{"s":"USD","t":2019.532,"v":95.3},{"s":"USD","t":2019.551,"v":94.8},{"s":"USD","t":2019.570,"v":94.1},{"s":"USD","t":2019.583,"v":93.5},{"s":"USD","t":2019.609,"v":94.8},{"s":"USD","t":2019.628,"v":93.8},{"s":"USD","t":2019.647,"v":94.0},{"s":"USD","t":2019.666,"v":92.6},{"s":"USD","t":2019.685,"v":93.8},{"s":"USD","t":2019.705,"v":93.1},{"s":"USD","t":2019.724,"v":93.0},{"s":"USD","t":2019.749,"v":92.3},{"s":"USD","t":2019.769,"v":93.1},{"s":"USD","t":2019.788,"v":93.5},{"s":"USD","t":2019.807,"v":94.5},{"s":"USD","t":2019.826,"v":94.1},{"s":"USD","t":2019.845,"v":94.3},{"s":"USD","t":2019.864,"v":93.1},{"s":"USD","t":2019.884,"v":93.8},{"s":"USD","t":2019.903,"v":93.1},{"s":"USD","t":2019.928,"v":93.8},{"s":"USD","t":2019.948,"v":94.0},{"s":"USD","t":2019.967,"v":94.3},{"s":"USD","t":2019.992,"v":95.1},
{"s":"USD","t":2020.005,"v":95.0},{"s":"USD","t":2020.018,"v":94.5},{"s":"USD","t":2020.037,"v":94.3},{"s":"USD","t":2020.056,"v":94.0},{"s":"USD","t":2020.075,"v":93.3},{"s":"USD","t":2020.095,"v":93.5},{"s":"USD","t":2020.107,"v":92.8},{"s":"USD","t":2020.120,"v":92.1},{"s":"USD","t":2020.139,"v":91.4},{"s":"USD","t":2020.159,"v":92.1},{"s":"USD","t":2020.171,"v":94.0},{"s":"USD","t":2020.184,"v":96.9},{"s":"USD","t":2020.197,"v":95.4},{"s":"USD","t":2020.207,"v":94.3},{"s":"USD","t":2020.216,"v":90.6},{"s":"USD","t":2020.229,"v":93.0},{"s":"USD","t":2020.242,"v":93.3},{"s":"USD","t":2020.255,"v":91.3},{"s":"USD","t":2020.268,"v":92.1},{"s":"USD","t":2020.287,"v":92.6},{"s":"USD","t":2020.306,"v":91.3},{"s":"USD","t":2020.325,"v":92.0},{"s":"USD","t":2020.338,"v":92.5},{"s":"USD","t":2020.357,"v":91.3},{"s":"USD","t":2020.376,"v":92.1},{"s":"USD","t":2020.389,"v":93.0},{"s":"USD","t":2020.402,"v":93.1},{"s":"USD","t":2020.415,"v":94.3},{"s":"USD","t":2020.428,"v":95.4},{"s":"USD","t":2020.440,"v":96.1},{"s":"USD","t":2020.460,"v":95.3},{"s":"USD","t":2020.479,"v":95.6},{"s":"USD","t":2020.492,"v":95.0},{"s":"USD","t":2020.504,"v":95.4},{"s":"USD","t":2020.524,"v":95.8},{"s":"USD","t":2020.536,"v":96.8},{"s":"USD","t":2020.556,"v":97.9},{"s":"USD","t":2020.568,"v":99.4},{"s":"USD","t":2020.588,"v":100.1},{"s":"USD","t":2020.607,"v":99.9},{"s":"USD","t":2020.626,"v":100.4},{"s":"USD","t":2020.639,"v":100.9},{"s":"USD","t":2020.658,"v":100.4},{"s":"USD","t":2020.671,"v":101.2},{"s":"USD","t":2020.684,"v":100.1},{"s":"USD","t":2020.703,"v":100.4},{"s":"USD","t":2020.716,"v":100.4},{"s":"USD","t":2020.735,"v":98.8},{"s":"USD","t":2020.754,"v":99.1},{"s":"USD","t":2020.773,"v":99.8},{"s":"USD","t":2020.793,"v":99.4},{"s":"USD","t":2020.812,"v":100.2},{"s":"USD","t":2020.831,"v":99.1},{"s":"USD","t":2020.850,"v":99.6},{"s":"USD","t":2020.869,"v":100.4},{"s":"USD","t":2020.889,"v":100.2},{"s":"USD","t":2020.908,"v":100.7},{"s":"USD","t":2020.927,"v":102.1},{"s":"USD","t":2020.946,"v":102.7},{"s":"USD","t":2020.965,"v":103.7},{"s":"USD","t":2020.991,"v":103.9},
{"s":"USD","t":2021.017,"v":104.4},{"s":"USD","t":2021.036,"v":102.9},{"s":"USD","t":2021.055,"v":102.2},{"s":"USD","t":2021.068,"v":102.9},{"s":"USD","t":2021.087,"v":102.2},{"s":"USD","t":2021.106,"v":101.6},{"s":"USD","t":2021.125,"v":102.7},{"s":"USD","t":2021.145,"v":102.7},{"s":"USD","t":2021.157,"v":103.4},{"s":"USD","t":2021.170,"v":101.9},{"s":"USD","t":2021.183,"v":100.6},{"s":"USD","t":2021.196,"v":101.2},{"s":"USD","t":2021.215,"v":100.7},{"s":"USD","t":2021.234,"v":99.9},{"s":"USD","t":2021.253,"v":99.8},{"s":"USD","t":2021.272,"v":100.9},{"s":"USD","t":2021.292,"v":101.9},{"s":"USD","t":2021.311,"v":102.2},{"s":"USD","t":2021.330,"v":101.7},{"s":"USD","t":2021.349,"v":102.6},{"s":"USD","t":2021.368,"v":103.1},{"s":"USD","t":2021.387,"v":103.4},{"s":"USD","t":2021.400,"v":103.7},{"s":"USD","t":2021.419,"v":102.9},{"s":"USD","t":2021.439,"v":103.1},{"s":"USD","t":2021.458,"v":102.4},{"s":"USD","t":2021.471,"v":100.7},{"s":"USD","t":2021.490,"v":100.7},{"s":"USD","t":2021.515,"v":100.2},{"s":"USD","t":2021.541,"v":99.8},{"s":"USD","t":2021.567,"v":100.1},{"s":"USD","t":2021.586,"v":100.6},{"s":"USD","t":2021.605,"v":99.9},{"s":"USD","t":2021.624,"v":100.2},{"s":"USD","t":2021.643,"v":99.1},{"s":"USD","t":2021.662,"v":100.1},{"s":"USD","t":2021.675,"v":100.4},{"s":"USD","t":2021.694,"v":100.1},{"s":"USD","t":2021.714,"v":99.6},{"s":"USD","t":2021.733,"v":98.8},{"s":"USD","t":2021.752,"v":98.1},{"s":"USD","t":2021.771,"v":97.6},{"s":"USD","t":2021.790,"v":98.4},{"s":"USD","t":2021.809,"v":98.3},{"s":"USD","t":2021.829,"v":97.9},{"s":"USD","t":2021.848,"v":97.8},{"s":"USD","t":2021.861,"v":97.3},{"s":"USD","t":2021.873,"v":96.3},{"s":"USD","t":2021.886,"v":95.1},{"s":"USD","t":2021.899,"v":95.4},{"s":"USD","t":2021.918,"v":95.9},{"s":"USD","t":2021.937,"v":95.8},{"s":"USD","t":2021.963,"v":95.8},{"s":"USD","t":2021.988,"v":95.8},
{"s":"USD","t":2022.010,"v":95.8},{"s":"USD","t":2022.030,"v":96.8},{"s":"USD","t":2022.049,"v":96.2},{"s":"USD","t":2022.068,"v":95.0},{"s":"USD","t":2022.081,"v":94.4},{"s":"USD","t":2022.094,"v":96.8},{"s":"USD","t":2022.113,"v":96.4},{"s":"USD","t":2022.132,"v":96.0},{"s":"USD","t":2022.145,"v":95.2},{"s":"USD","t":2022.158,"v":94.0},{"s":"USD","t":2022.171,"v":92.4},{"s":"USD","t":2022.184,"v":93.2},{"s":"USD","t":2022.203,"v":93.2},{"s":"USD","t":2022.222,"v":93.0},{"s":"USD","t":2022.242,"v":94.0},{"s":"USD","t":2022.254,"v":92.8},{"s":"USD","t":2022.267,"v":92.2},{"s":"USD","t":2022.287,"v":92.0},{"s":"USD","t":2022.306,"v":91.8},{"s":"USD","t":2022.319,"v":89.2},{"s":"USD","t":2022.332,"v":88.8},{"s":"USD","t":2022.351,"v":89.4},{"s":"USD","t":2022.364,"v":88.0},{"s":"USD","t":2022.383,"v":89.2},{"s":"USD","t":2022.396,"v":90.4},{"s":"USD","t":2022.409,"v":91.0},{"s":"USD","t":2022.428,"v":90.6},{"s":"USD","t":2022.447,"v":89.2},{"s":"USD","t":2022.460,"v":88.2},{"s":"USD","t":2022.479,"v":89.4},{"s":"USD","t":2022.499,"v":88.8},{"s":"USD","t":2022.512,"v":86.5},{"s":"USD","t":2022.531,"v":84.9},{"s":"USD","t":2022.550,"v":86.7},{"s":"USD","t":2022.569,"v":85.9},{"s":"USD","t":2022.589,"v":86.5},{"s":"USD","t":2022.608,"v":87.1},{"s":"USD","t":2022.627,"v":85.5},{"s":"USD","t":2022.640,"v":84.3},{"s":"USD","t":2022.659,"v":84.7},{"s":"USD","t":2022.679,"v":83.9},{"s":"USD","t":2022.692,"v":84.9},{"s":"USD","t":2022.704,"v":86.1},{"s":"USD","t":2022.717,"v":84.5},{"s":"USD","t":2022.730,"v":83.7},{"s":"USD","t":2022.743,"v":81.1},{"s":"USD","t":2022.756,"v":82.9},{"s":"USD","t":2022.765,"v":83.9},{"s":"USD","t":2022.779,"v":82.3}
]},
"layer": [
{"mark": {"type": "line", "strokeWidth": 3.5, "strokeJoin": "round"},
 "encoding": {
  "x": {"field": "t", "type": "quantitative",
   "scale": {"domain": [2018, 2023], "nice": false, "zero": false},
   "axis": {"values": [2018, 2019, 2020, 2021, 2022, 2023], "format": "d",
    "labelExpr": "datum.value >= 2023 ? '' : datum.label",
    "labelOffset": 130, "labelFontSize": 27, "labelColor": "#000", "labelPadding": 6,
    "labelFlush": false, "labelOverlap": false,
    "grid": true, "gridColor": "#4a6fa5", "gridDash": [4, 3], "gridWidth": 1, "gridOpacity": 0.9,
    "tickColor": "#4a6fa5", "tickSize": 5, "tickDash": [4, 3],
    "domainColor": "#808080", "domainWidth": 3,
    "title": "Viimeisin tieto: tiistai 11. lokakuuta 2022", "titleFontSize": 22.5,
    "titleFontWeight": "normal", "titleColor": "#000", "titlePadding": 10}},
  "y": {"field": "v", "type": "quantitative",
   "scale": {"domain": [79.3, 110.9], "nice": false, "zero": false},
   "axis": {"values": [80, 85, 90, 95, 100, 105, 110], "labelFontSize": 26, "labelColor": "#000",
    "labelPadding": 8, "tickSize": 7, "tickColor": "#808080", "domainColor": "#808080", "domainWidth": 3,
    "gridColor": "#c0c0c0", "gridDash": [2, 3], "title": null}},
  "color": {"field": "s", "type": "nominal",
   "scale": {"domain": ["SEK", "GBP", "CNY", "USD"], "range": ["#0000ff", "#ff0000", "#8b0000", "#000000"]},
   "legend": {"orient": "none", "legendX": 1344, "legendY": 274, "title": null,
    "labelExpr": "datum.label == 'SEK' ? 'Ruotsin kruunu' : datum.label == 'GBP' ? 'Iso-Britannian punta' : datum.label == 'CNY' ? 'Kiinan juan' : 'USA:n dollari'",
    "labelFontSize": 27.5, "labelColor": "#000", "labelFont": "DejaVu Sans", "labelLimit": 500,
    "symbolType": "stroke", "symbolStrokeWidth": 3, "symbolSize": 289,
    "strokeColor": "#a0a0a0", "cornerRadius": 6, "padding": 6, "rowPadding": 12,
    "labelOffset": 3, "fillColor": "white"}}
 }},
{"data": {"values": [{}]},
 "mark": {"type": "rule", "color": "black", "strokeWidth": 2},
 "encoding": {"x": {"datum": 2018.03, "type": "quantitative"}, "x2": {"datum": 2023}, "y": {"datum": 100, "type": "quantitative"}}},
{"data": {"values": [{}]},
 "mark": {"type": "rect", "fill": "white", "stroke": "#a0a0a0", "strokeWidth": 1, "cornerRadius": 6},
 "encoding": {"x": {"datum": 2018.027, "type": "quantitative"}, "x2": {"datum": 2019.036}, "y": {"datum": 110.69, "type": "quantitative"}, "y2": {"datum": 105.99}}},
{"data": {"values": [{}]},
 "mark": {"type": "text", "align": "left", "baseline": "alphabetic", "fontSize": 22.3, "lineHeight": 27.5, "color": "#000", "font": "DejaVu Sans"},
 "encoding": {"x": {"datum": 2018.049, "type": "quantitative"}, "y": {"datum": 109.19, "type": "quantitative"},
  "text": {"value": ["Euron arvo suhteessa", "muihin valuuttoihin,", "2018 = 100"]}}}
]
}
